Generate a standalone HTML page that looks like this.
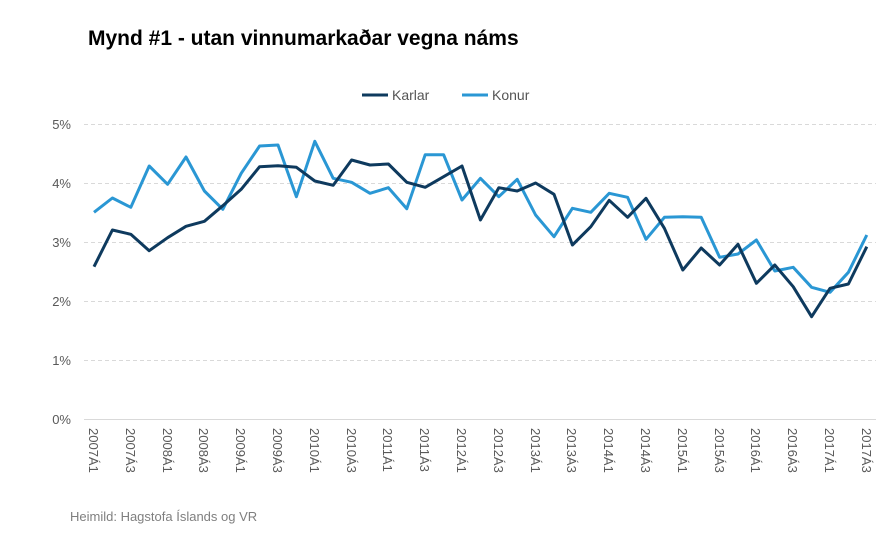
<!DOCTYPE html>
<html><head><meta charset="utf-8"><style>
body{margin:0;background:#fff;width:889px;height:544px;overflow:hidden}
svg{font-family:"Liberation Sans",sans-serif}
</style></head><body>
<svg width="889" height="544" xmlns="http://www.w3.org/2000/svg">
<text x="88" y="45" font-size="21" font-weight="bold" fill="#000">Mynd #1 - utan vinnumarkaðar vegna náms</text>
<line x1="362" y1="95" x2="388" y2="95" stroke="#0e3a5e" stroke-width="3"/>
<text x="392" y="100" font-size="14" fill="#555">Karlar</text>
<line x1="462" y1="95" x2="488" y2="95" stroke="#2a97d4" stroke-width="3"/>
<text x="492" y="100" font-size="14" fill="#555">Konur</text>
<g stroke="#d9d9d9" stroke-dasharray="4,3" stroke-width="1">
<line x1="84" x2="876" y1="124.5" y2="124.5"/>
<line x1="84" x2="876" y1="183.5" y2="183.5"/>
<line x1="84" x2="876" y1="242.5" y2="242.5"/>
<line x1="84" x2="876" y1="301.5" y2="301.5"/>
<line x1="84" x2="876" y1="360.5" y2="360.5"/>
</g>
<line x1="84" x2="876" y1="419.5" y2="419.5" stroke="#d9d9d9"/>
<g font-size="13" fill="#595959" text-anchor="end">
<text x="71" y="129">5%</text><text x="71" y="188">4%</text><text x="71" y="247">3%</text>
<text x="71" y="306">2%</text><text x="71" y="365">1%</text><text x="71" y="424">0%</text>
</g>
<polyline fill="none" stroke="#2a97d4" stroke-width="3" stroke-linejoin="round" points="94,212.3 112.4,198 130.8,207.3 149.2,166 167.6,184.3 186,157 204.4,191 222.8,209.3 241.2,173.3 259.6,146 278,145 296.4,196.7 314.8,141.3 333.2,178.3 351.6,182.3 370,193.3 388.4,187.7 406.8,208.7 425.2,154.7 443.6,154.7 462,200 480.4,178.3 498.8,196.7 517.2,179.3 535.6,215 554,236.7 572.4,208.3 590.8,212.3 609.2,193.3 627.6,197.3 646,239.3 664.4,217.3 682.8,216.7 701.2,217.3 719.6,257.3 738,254 756.4,240 774.8,271 793.2,267.3 811.6,287.3 830,292.3 848.4,272.3 866.8,235"/>
<polyline fill="none" stroke="#0e3a5e" stroke-width="3" stroke-linejoin="round" points="94,266.7 112.4,230 130.8,234.3 149.2,250.7 167.6,237.7 186,226.3 204.4,221.3 222.8,205.7 241.2,189.3 259.6,166.7 278,165.7 296.4,167.3 314.8,181 333.2,185.3 351.6,160 370,165 388.4,164 406.8,182.3 425.2,187.3 443.6,176.7 462,166 480.4,220 498.8,187.7 517.2,191 535.6,183 554,194.3 572.4,245 590.8,226.7 609.2,200.3 627.6,217.3 646,198.3 664.4,228.3 682.8,270 701.2,248 719.6,265 738,244.3 756.4,283.3 774.8,265 793.2,286.7 811.6,316.7 830,288.3 848.4,284 866.8,246.7"/>
<text x="70" y="521" font-size="13" fill="#7f7f7f">Heimild: Hagstofa Íslands og VR</text>
<g font-size="13" fill="#595959">
<text transform="translate(89,428) rotate(90)">2007Á1</text>
<text transform="translate(126,428) rotate(90)">2007Á3</text>
<text transform="translate(163,428) rotate(90)">2008Á1</text>
<text transform="translate(199,428) rotate(90)">2008Á3</text>
<text transform="translate(236,428) rotate(90)">2009Á1</text>
<text transform="translate(273,428) rotate(90)">2009Á3</text>
<text transform="translate(310,428) rotate(90)">2010Á1</text>
<text transform="translate(347,428) rotate(90)">2010Á3</text>
<text transform="translate(383,428) rotate(90)">2011Á1</text>
<text transform="translate(420,428) rotate(90)">2011Á3</text>
<text transform="translate(457,428) rotate(90)">2012Á1</text>
<text transform="translate(494,428) rotate(90)">2012Á3</text>
<text transform="translate(531,428) rotate(90)">2013Á1</text>
<text transform="translate(567,428) rotate(90)">2013Á3</text>
<text transform="translate(604,428) rotate(90)">2014Á1</text>
<text transform="translate(641,428) rotate(90)">2014Á3</text>
<text transform="translate(678,428) rotate(90)">2015Á1</text>
<text transform="translate(715,428) rotate(90)">2015Á3</text>
<text transform="translate(751,428) rotate(90)">2016Á1</text>
<text transform="translate(788,428) rotate(90)">2016Á3</text>
<text transform="translate(825,428) rotate(90)">2017Á1</text>
<text transform="translate(862,428) rotate(90)">2017Á3</text>
</g>
</svg>
</body></html>
